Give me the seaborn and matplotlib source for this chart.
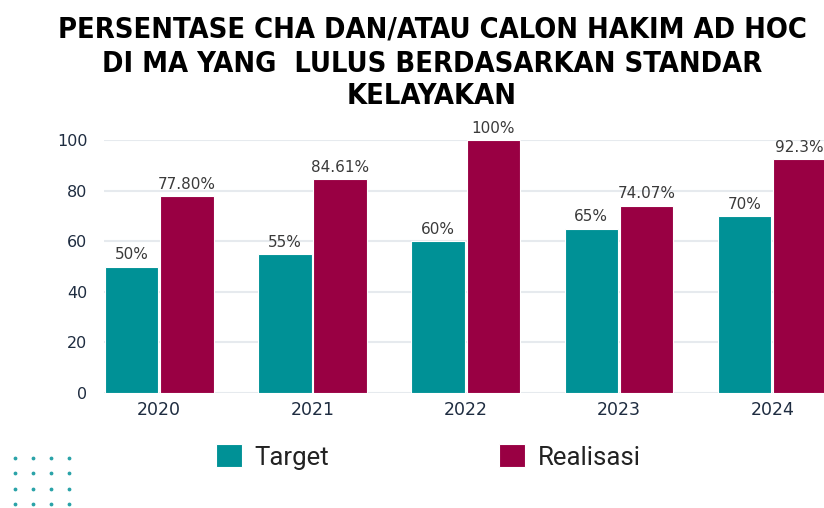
import numpy as np
import pandas as pd
import matplotlib
matplotlib.use("Agg")
import matplotlib.pyplot as plt
import seaborn as sns

# ---- data ----
years = ["2020", "2021", "2022", "2023", "2024"]
target = [50, 55, 60, 65, 70]
realisasi = [77.80, 84.61, 100, 74.07, 92.3]
target_labels = ["50%", "55%", "60%", "65%", "70%"]
realisasi_labels = ["77.80%", "84.61%", "100%", "74.07%", "92.3%"]
series_names = ["Target", "Realisasi"]
title_lines = ["PERSENTASE CHA DAN/ATAU CALON HAKIM AD HOC",
               "DI MA YANG  LULUS BERDASARKAN STANDAR",
               "KELAYAKAN"]

TEAL = "#009196"
MAROON = "#990043"

df = pd.DataFrame({
    "Tahun": years * 2,
    "Seri": [series_names[0]] * len(years) + [series_names[1]] * len(years),
    "Nilai": target + realisasi,
})

sns.set_theme(style="white")
plt.rcParams["font.family"] = ["DejaVu Sans"]

W, H = 824, 508
fig = plt.figure(figsize=(W / 100, H / 100), dpi=100)
fig.patch.set_facecolor("white")
ax = fig.add_axes([104 / W, (H - 393) / H, 1 - 104 / W, (393 - 140) / H])

sns.barplot(data=df, x="Tahun", y="Nilai", hue="Seri", palette=[TEAL, MAROON],
            saturation=1, width=0.72, gap=0.03, edgecolor="white", linewidth=0.8,
            ax=ax, legend=True)

handles, labels = ax.get_legend_handles_labels()
ax.get_legend().remove()

for cont, labs in zip(ax.containers, [target_labels, realisasi_labels]):
    ax.bar_label(cont, labels=labs, padding=3, fontsize=11, color="#3a3a3a",
                 annotation_clip=False)

ax.set_ylim(0, 100)
ax.set_xlim(-0.36, 4.338)
ax.set_yticks(np.arange(0, 101, 20))
ax.yaxis.grid(True, color="#e6eaee", linewidth=1.5)
ax.set_axisbelow(True)
for s in ax.spines.values():
    s.set_visible(False)
ax.tick_params(axis="both", length=0, labelcolor="#1e2c40")
ax.tick_params(axis="y", pad=12, labelsize=11.5)
ax.tick_params(axis="x", pad=6, labelsize=12.5)
ax.set_xlabel("")
ax.set_ylabel("")

# title: three centred lines, size fitted so the first line spans the reference width
baselines = [38, 72, 104]
ttexts = []
for line, yb in zip(title_lines, baselines):
    t = fig.text(432 / W, 1 - yb / H, line, ha="center", va="baseline",
                 family=["DejaVu Sans"], fontstretch="condensed",
                 fontweight="bold", fontsize=24, color="black")
    ttexts.append(t)
fig.canvas.draw()
r = fig.canvas.get_renderer()
w0 = ttexts[0].get_window_extent(r).width
fs = 24 * 752 / w0
for t in ttexts:
    t.set_fontsize(fs)

leg = fig.legend(handles, labels, loc="center left",
                 bbox_to_anchor=(193 / W, 1 - 457 / H), ncol=2, frameon=False,
                 handlelength=1.0, handleheight=1.0,
                 handletextpad=0.5, columnspacing=6.6,
                 prop={"family": ["Roboto", "DejaVu Sans"], "size": 18.5})
for t in leg.get_texts():
    t.set_color("#222222")

# decorative dot grid
gx, gy = np.meshgrid(np.arange(4) * 18 + 15, np.arange(4) * 15.3 + 458)
ax.scatter(gx.ravel() / W, 1 - gy.ravel() / H, s=3, color="#2aa3a8",
           transform=fig.transFigure, clip_on=False)

fig.savefig("out.png", dpi=100, facecolor="white")
